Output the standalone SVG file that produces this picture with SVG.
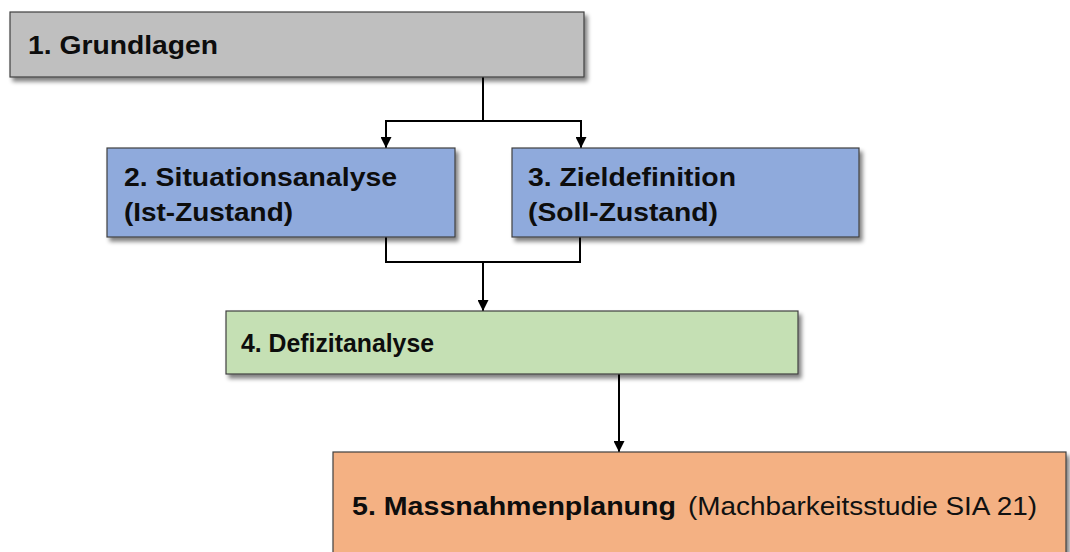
<svg xmlns="http://www.w3.org/2000/svg" width="1070" height="552" viewBox="0 0 1070 552">
<defs>
<filter id="sh" x="-5%" y="-20%" width="115%" height="150%">
<feGaussianBlur in="SourceAlpha" stdDeviation="2"/>
<feOffset dx="3" dy="4" result="b"/>
<feComponentTransfer><feFuncA type="linear" slope="0.5"/></feComponentTransfer>
<feMerge><feMergeNode/><feMergeNode in="SourceGraphic"/></feMerge>
</filter>
<marker id="arr" viewBox="0 0 10 10" refX="10" refY="5" markerWidth="11" markerHeight="11" markerUnits="userSpaceOnUse" orient="auto">
<path d="M0,0 L10,5 L0,10 Z" fill="#000"/>
</marker>
</defs>
<style>
.box{stroke:#404040;stroke-width:1.2}
.t{font-family:"Liberation Sans",Arial,sans-serif;font-size:26px;font-weight:bold;fill:#0d0d0d}
.n{font-family:"Liberation Sans",Arial,sans-serif;font-size:25px;fill:#111}
.c{fill:none;stroke:#000;stroke-width:2}
</style>
<rect width="1070" height="552" fill="#fff"/>
<g id="connectors">
<path class="c" d="M483,77 V121"/>
<path class="c" d="M483,121 H386 V148" marker-end="url(#arr)"/>
<path class="c" d="M483,121 H581 V148" marker-end="url(#arr)"/>
<path class="c" d="M386,237 V262 H580 V237"/>
<path class="c" d="M483,262 V311" marker-end="url(#arr)"/>
<path class="c" d="M619,374 V452" marker-end="url(#arr)"/>
</g>
<g id="n1">
<rect class="box" x="10" y="12" width="574" height="65" fill="#bfbfbf" filter="url(#sh)"/>
<text class="t" x="28" y="54" textLength="190" lengthAdjust="spacingAndGlyphs">1. Grundlagen</text>
</g>
<g id="n2">
<rect class="box" x="107" y="148" width="348" height="89" fill="#8faadc" filter="url(#sh)"/>
<text class="t" x="124" y="186" textLength="273" lengthAdjust="spacingAndGlyphs">2. Situationsanalyse</text>
<text class="t" x="124" y="221" textLength="169" lengthAdjust="spacingAndGlyphs">(Ist-Zustand)</text>
</g>
<g id="n3">
<rect class="box" x="512" y="148" width="347" height="89" fill="#8faadc" filter="url(#sh)"/>
<text class="t" x="528" y="186" textLength="208" lengthAdjust="spacingAndGlyphs">3. Zieldefinition</text>
<text class="t" x="528" y="221" textLength="190" lengthAdjust="spacingAndGlyphs">(Soll-Zustand)</text>
</g>
<g id="n4">
<rect class="box" x="226" y="311" width="572" height="63" fill="#c5e0b4" filter="url(#sh)"/>
<text class="t" x="241" y="352" textLength="193" lengthAdjust="spacingAndGlyphs">4. Defizitanalyse</text>
</g>
<g id="n5">
<rect class="box" x="333" y="452" width="733" height="110" fill="#f4b183" filter="url(#sh)"/>
<text class="t" x="352" y="515" textLength="324" lengthAdjust="spacingAndGlyphs">5. Massnahmenplanung</text>
<text class="n" x="688" y="515" textLength="349" lengthAdjust="spacingAndGlyphs">(Machbarkeitsstudie SIA 21)</text>
</g>
</svg>
